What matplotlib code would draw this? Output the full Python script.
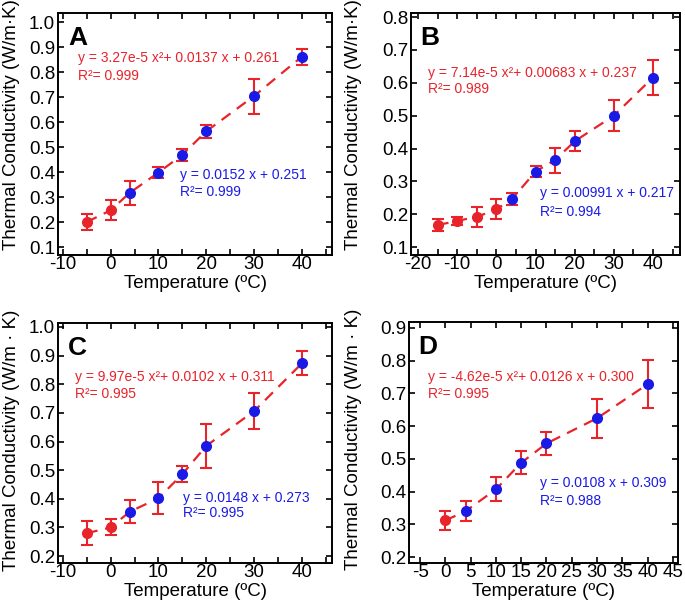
import numpy as np
import matplotlib
matplotlib.use('Agg')
import matplotlib.pyplot as plt
from matplotlib.ticker import MultipleLocator, FormatStrFormatter

plt.rcParams['font.family'] = ['Liberation Sans', 'DejaVu Sans']
plt.rcParams['axes.unicode_minus'] = False

# ---- data ----
tA = [-5, 0, 4, 10, 15, 20, 30, 40]
kA = [0.200, 0.247, 0.317, 0.398, 0.469, 0.563, 0.704, 0.862]
eA = [0.033, 0.040, 0.049, 0.023, 0.024, 0.025, 0.070, 0.032]

tB = [-15, -10, -5, 0, 4, 10, 15, 20, 30, 40]
kB = [0.167, 0.180, 0.192, 0.215, 0.246, 0.330, 0.365, 0.422, 0.500, 0.616]
eB = [0.018, 0.012, 0.030, 0.030, 0.018, 0.018, 0.038, 0.030, 0.048, 0.053]

tC = [-5, 0, 4, 10, 15, 20, 30, 40]
kC = [0.280, 0.300, 0.355, 0.402, 0.486, 0.585, 0.706, 0.873]
eC = [0.042, 0.028, 0.040, 0.055, 0.029, 0.077, 0.062, 0.042]

tD = [0, 4, 10, 15, 20, 30, 40]
kD = [0.312, 0.340, 0.407, 0.488, 0.547, 0.624, 0.728]
eD = [0.029, 0.030, 0.037, 0.035, 0.035, 0.060, 0.073]

quad_txt = ['y = 3.27e-5 x²+ 0.0137 x + 0.261',
            'y = 7.14e-5 x²+ 0.00683 x + 0.237',
            'y = 9.97e-5 x²+ 0.0102 x + 0.311',
            'y = -4.62e-5 x²+ 0.0126 x + 0.300']
quad_r2 = ['R²= 0.999', 'R²= 0.989', 'R²= 0.995', 'R²= 0.995']
lin_txt = ['y = 0.0152 x + 0.251', 'y = 0.00991 x + 0.217',
           'y = 0.0148 x + 0.273', 'y = 0.0108 x + 0.309']
lin_r2 = ['R²= 0.999', 'R²= 0.994', 'R²= 0.995', 'R²= 0.988']
letters = ['A', 'B', 'C', 'D']

RED = '#e8232a'
BLUE = '#1a1ae6'

fig = plt.figure(figsize=(6.85, 6.11), dpi=100)

panels = [
	dict(rect=[0.0847, 0.5826, 0.400, 0.396], t=tA, k=kA, e=eA, xlim=(-11, 46.3), ylim=(0.068, 1.036),
		 yt=np.arange(0.1, 1.01, 0.1), xmaj=10, xmin=5, unit='(W/m·K)', lx=-0.139, ly=0.541,
		 red=(0.073, 0.814, 0.740), blue=(0.445, 0.330, 0.260)),
	dict(rect=[0.600, 0.5826, 0.3927, 0.396], t=tB, k=kB, e=eB, xlim=(-21.8, 46.9), ylim=(0.076, 0.812),
		 yt=np.arange(0.1, 0.81, 0.1), xmaj=10, xmin=5, unit='(W/m·K)', lx=-0.182, ly=0.541,
		 red=(0.063, 0.752, 0.686), blue=(0.480, 0.256, 0.178)),
	dict(rect=[0.0847, 0.0786, 0.400, 0.3928], t=tC, k=kC, e=eC, xlim=(-11, 46.3), ylim=(0.176, 1.014),
		 yt=np.arange(0.2, 1.01, 0.1), xmaj=10, xmin=5, unit='(W/m · K)', lx=-0.139, ly=0.5125,
		 red=(0.062, 0.775, 0.704), blue=(0.456, 0.270, 0.208)),
	dict(rect=[0.597, 0.0786, 0.3927, 0.3944], t=tD, k=kD, e=eD, xlim=(-7.2, 46), ylim=(0.182, 0.918),
		 yt=np.arange(0.2, 0.91, 0.1), xmaj=5, xmin=5, unit='(W/m · K)', lx=-0.175, ly=0.5125,
		 red=(0.070, 0.770, 0.700), blue=(0.487, 0.332, 0.257)),
]

for i, p in enumerate(panels):
	ax = fig.add_axes(p['rect'])
	t = np.array(p['t'])
	k = np.array(p['k'])
	e = np.array(p['e'])

	# dashed guide line through the points
	ax.plot(t, k, '--', color=RED, lw=1.6, dashes=(5, 3.5), zorder=1)
	ax.errorbar(t, k, yerr=e, fmt='none', ecolor=RED, elinewidth=1.5,
				capsize=4.5, capthick=1.5, zorder=2)
	cold = t <= 0
	ax.plot(t[cold], k[cold], 'o', color=RED, ms=7, zorder=3)
	ax.plot(t[~cold], k[~cold], 'o', color=BLUE, ms=7, zorder=3)

	ax.set_xlim(*p['xlim'])
	ax.set_ylim(*p['ylim'])
	ax.set_yticks(p['yt'])
	ax.yaxis.set_major_formatter(FormatStrFormatter('%.1f'))
	ax.xaxis.set_major_locator(MultipleLocator(p['xmaj']))
	ax.xaxis.set_minor_locator(MultipleLocator(p['xmin']))
	ax.tick_params(which='both', direction='in', top=True, right=True,
				   labelsize=13.5, width=1.2, length=4)
	ax.tick_params(axis='x', pad=1)
	ax.tick_params(axis='y', pad=2)
	for s in ax.spines.values():
		s.set_linewidth(1.4)

	ax.set_xlabel('Temperature (ºC)', fontsize=13.5, labelpad=1)
	ax.set_ylabel('Thermal Conductivity ' + p['unit'], fontsize=13.5)
	ax.yaxis.set_label_coords(p['lx'], p['ly'])

	ax.text(0.036, 0.895, letters[i], transform=ax.transAxes, fontsize=19,
			fontweight='bold', va='center', ha='left')
	rx, ry1, ry2 = p['red']
	ax.text(rx, ry1, quad_txt[i], transform=ax.transAxes, color=RED, fontsize=10, va='center')
	ax.text(rx, ry2, quad_r2[i], transform=ax.transAxes, color=RED, fontsize=10, va='center')
	bx, by1, by2 = p['blue']
	ax.text(bx, by1, lin_txt[i], transform=ax.transAxes, color=BLUE, fontsize=10, va='center')
	ax.text(bx, by2, lin_r2[i], transform=ax.transAxes, color=BLUE, fontsize=10, va='center')

fig.savefig('out.png', dpi=100)
